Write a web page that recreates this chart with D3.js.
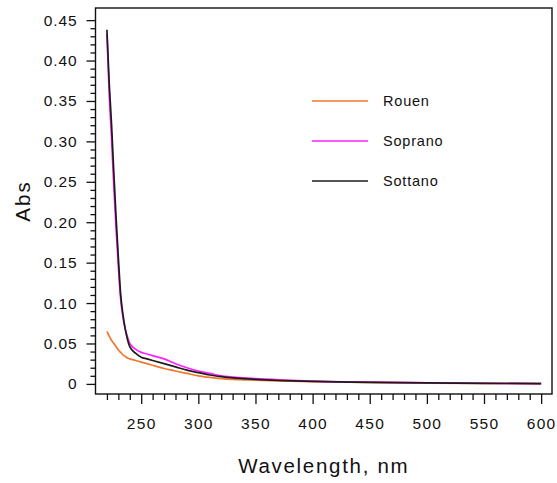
<!DOCTYPE html>
<html>
<head>
<meta charset="utf-8">
<script src="https://cdn.jsdelivr.net/npm/d3@7"></script>
<style>
  html, body { margin: 0; padding: 0; background: #fff; }
  svg text { font-family: "Liberation Sans", Arial, sans-serif; fill: #111; }
</style>
</head>
<body>
<svg id="chart" width="557" height="483"></svg>
<script>
// Absorbance spectra (nm vs Abs)
const wavelengths = [220, 222, 224, 226, 228, 230, 232, 234, 236, 238, 240, 245, 250, 255, 260, 270, 280, 290, 300, 310, 320, 330, 340, 350, 375, 400, 450, 500, 550, 600];
const rouen   = [0.065, 0.059, 0.054, 0.050, 0.046, 0.042, 0.039, 0.036, 0.034, 0.032, 0.031, 0.029, 0.027, 0.025, 0.023, 0.019, 0.016, 0.013, 0.010, 0.008, 0.0065, 0.0055, 0.005, 0.0045, 0.0035, 0.0027, 0.0018, 0.001, 0.0006, 0.0003];
const soprano = [0.433, 0.358, 0.305, 0.245, 0.192, 0.145, 0.105, 0.083, 0.068, 0.058, 0.050, 0.043, 0.039, 0.037, 0.035, 0.031, 0.025, 0.020, 0.016, 0.013, 0.010, 0.0085, 0.0075, 0.0065, 0.0048, 0.0035, 0.0022, 0.0013, 0.0008, 0.0004];
const sottano = [0.438, 0.372, 0.322, 0.262, 0.206, 0.156, 0.111, 0.086, 0.068, 0.055, 0.046, 0.038, 0.033, 0.031, 0.029, 0.025, 0.021, 0.017, 0.014, 0.011, 0.009, 0.0075, 0.0065, 0.0055, 0.004, 0.003, 0.002, 0.0012, 0.0007, 0.0003];

const seriesNames  = ["Rouen", "Soprano", "Sottano"];
const seriesValues = [rouen, soprano, sottano];
const seriesColors = ["#f0772e", "#ff22ff", "#1c1c1c"];

const xTicks = [250, 300, 350, 400, 450, 500, 550, 600];
const yTicks = [0, 0.05, 0.10, 0.15, 0.20, 0.25, 0.30, 0.35, 0.40, 0.45];

const svg = d3.select("#chart");
const plotL = 95.5, plotR = 552, plotT = 8, plotB = 394;

const x = d3.scaleLinear().domain([210, 609.5]).range([plotL, plotR]);
const y = d3.scaleLinear().domain([-0.0125, 0.465]).range([plotB, plotT]);

// frame
svg.append("rect")
  .attr("x", plotL).attr("y", plotT)
  .attr("width", plotR - plotL).attr("height", plotB - plotT)
  .attr("fill", "none").attr("stroke", "#111").attr("stroke-width", 1.4);

// x axis: minor every 10 nm, major every 50 nm
const xMinor = d3.range(220, 601, 10).filter(v => v % 50 !== 0);
const xAxisMinor = d3.axisBottom(x).tickValues(xMinor).tickSize(6).tickFormat("");
const xAxisMajor = d3.axisBottom(x).tickValues(xTicks).tickSize(10).tickPadding(14).tickFormat(d3.format("d"));
[xAxisMinor, xAxisMajor].forEach(ax => {
  const g = svg.append("g").attr("transform", `translate(0,${plotB})`).call(ax);
  g.select(".domain").remove();
  g.selectAll("line").attr("stroke", "#111").attr("stroke-width", 1.3);
  g.selectAll("text").style("font-size", "15.5px").style("letter-spacing", "1.3px").attr("fill", "#111");
});

// y axis: minor every 0.01, major every 0.05
const yMinor = d3.range(0, 46).filter(i => i % 5 !== 0).map(i => i / 100);
const yAxisMinor = d3.axisLeft(y).tickValues(yMinor).tickSize(5).tickFormat("");
const yAxisMajor = d3.axisLeft(y).tickValues(yTicks).tickSize(9).tickPadding(9)
  .tickFormat(d => d === 0 ? "0" : d3.format(".2f")(d));
[yAxisMinor, yAxisMajor].forEach(ax => {
  const g = svg.append("g").attr("transform", `translate(${plotL},0)`).call(ax);
  g.select(".domain").remove();
  g.selectAll("line").attr("stroke", "#111").attr("stroke-width", 1.3);
  g.selectAll("text").style("font-size", "15.5px").style("letter-spacing", "0.9px").attr("fill", "#111");
});

// axis titles
svg.append("text")
  .attr("x", (plotL + plotR) / 2).attr("y", 473)
  .attr("text-anchor", "middle")
  .style("font-size", "20.5px").style("letter-spacing", "1.7px")
  .text("Wavelength, nm");

svg.append("text")
  .attr("transform", `translate(30,${(plotT + plotB) / 2}) rotate(-90)`)
  .attr("text-anchor", "middle")
  .style("font-size", "20.5px").style("letter-spacing", "2px")
  .text("Abs");

// spectra
const line = d3.line()
  .x((d, i) => x(wavelengths[i]))
  .y(d => y(d))
  .curve(d3.curveMonotoneX);

seriesValues.forEach((vals, k) => {
  svg.append("path")
    .datum(vals)
    .attr("fill", "none")
    .attr("stroke", seriesColors[k])
    .attr("stroke-width", 1.7)
    .attr("d", line);
});

// legend
const legendY = [101, 141, 181];
seriesNames.forEach((name, k) => {
  svg.append("line")
    .attr("x1", 312).attr("x2", 368)
    .attr("y1", legendY[k]).attr("y2", legendY[k])
    .attr("stroke", seriesColors[k]).attr("stroke-width", 1.6);
  svg.append("text")
    .attr("x", 383).attr("y", legendY[k] + 5)
    .style("font-size", "14.5px").style("letter-spacing", "0.8px")
    .text(name);
});
</script>
</body>
</html>
